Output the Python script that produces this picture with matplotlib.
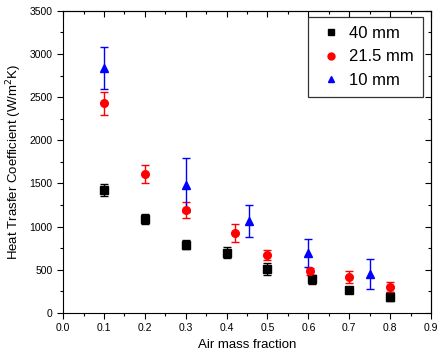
import matplotlib
matplotlib.use("Agg")
import matplotlib.pyplot as plt
from matplotlib.lines import Line2D
from matplotlib.ticker import MultipleLocator, FormatStrFormatter

plt.rcParams['font.family'] = ['Liberation Sans', 'DejaVu Sans']

# 40 mm
x_40 = [0.10, 0.20, 0.30, 0.40, 0.50, 0.61, 0.70, 0.80]
y_40 = [1425, 1090, 790, 700, 510, 390, 265, 190]
e_40 = [70, 60, 50, 60, 70, 50, 30, 50]

# 21.5 mm
x_215 = [0.10, 0.20, 0.30, 0.42, 0.50, 0.605, 0.70, 0.80]
y_215 = [2430, 1610, 1190, 925, 670, 485, 415, 300]
e_215 = [135, 100, 90, 100, 60, 40, 70, 60]

# 10 mm
x_10 = [0.10, 0.30, 0.455, 0.60, 0.75]
y_10 = [2840, 1480, 1065, 695, 450]
e_10 = [240, 310, 190, 160, 170]

labels = ['40 mm', '21.5 mm', '10 mm']
colors = ['black', 'red', 'blue']
markers = ['s', 'o', '^']

fig = plt.figure(figsize=(4.38, 3.63), dpi=100)
ax = fig.add_axes([0.144, 0.138, 0.840, 0.832])

kw = dict(linestyle='none', markersize=5.5, capsize=3, elinewidth=1, capthick=1)
ax.errorbar(x_40, y_40, yerr=e_40, fmt=markers[0], color=colors[0], **kw)
ax.errorbar(x_215, y_215, yerr=e_215, fmt=markers[1], color=colors[1], **kw)
ax.errorbar(x_10, y_10, yerr=e_10, fmt=markers[2], color=colors[2], **kw)

ax.set_xlim(0, 0.9)
ax.set_ylim(0, 3500)
ax.xaxis.set_major_locator(MultipleLocator(0.1))
ax.xaxis.set_minor_locator(MultipleLocator(0.05))
ax.yaxis.set_major_locator(MultipleLocator(500))
ax.yaxis.set_minor_locator(MultipleLocator(250))
ax.xaxis.set_major_formatter(FormatStrFormatter('%.1f'))

ax.tick_params(which='both', direction='out', labelsize=7.5, width=0.8)
ax.tick_params(which='major', length=4)
ax.tick_params(which='minor', length=2.5)

# inward ticks on top and right
ax2 = ax.secondary_xaxis('top')
ax2.xaxis.set_major_locator(MultipleLocator(0.1))
ax2.xaxis.set_minor_locator(MultipleLocator(0.05))
ax2.tick_params(which='both', direction='in', labeltop=False, width=0.8)
ax2.tick_params(which='major', length=4)
ax2.tick_params(which='minor', length=2.5)
ax3 = ax.secondary_yaxis('right')
ax3.yaxis.set_major_locator(MultipleLocator(500))
ax3.yaxis.set_minor_locator(MultipleLocator(250))
ax3.tick_params(which='both', direction='in', labelright=False, width=0.8)
ax3.tick_params(which='major', length=4)
ax3.tick_params(which='minor', length=2.5)

ax.set_xlabel('Air mass fraction', fontsize=9.5)
ax.set_ylabel('Heat Trasfer Coefficient (W/m$^2$K)', fontsize=9.5)

handles = [Line2D([], [], linestyle='none', marker=m, color=c, markersize=5)
           for m, c in zip(markers, colors)]
leg = ax.legend(handles, labels, loc='upper right', fontsize=12, frameon=True,
                fancybox=False, edgecolor='black', handletextpad=0.3,
                handlelength=1.6, borderpad=0.55, labelspacing=0.5,
                borderaxespad=0, bbox_to_anchor=(0.978, 0.980))
leg.get_frame().set_linewidth(0.9)

fig.savefig('out.png', dpi=100)
